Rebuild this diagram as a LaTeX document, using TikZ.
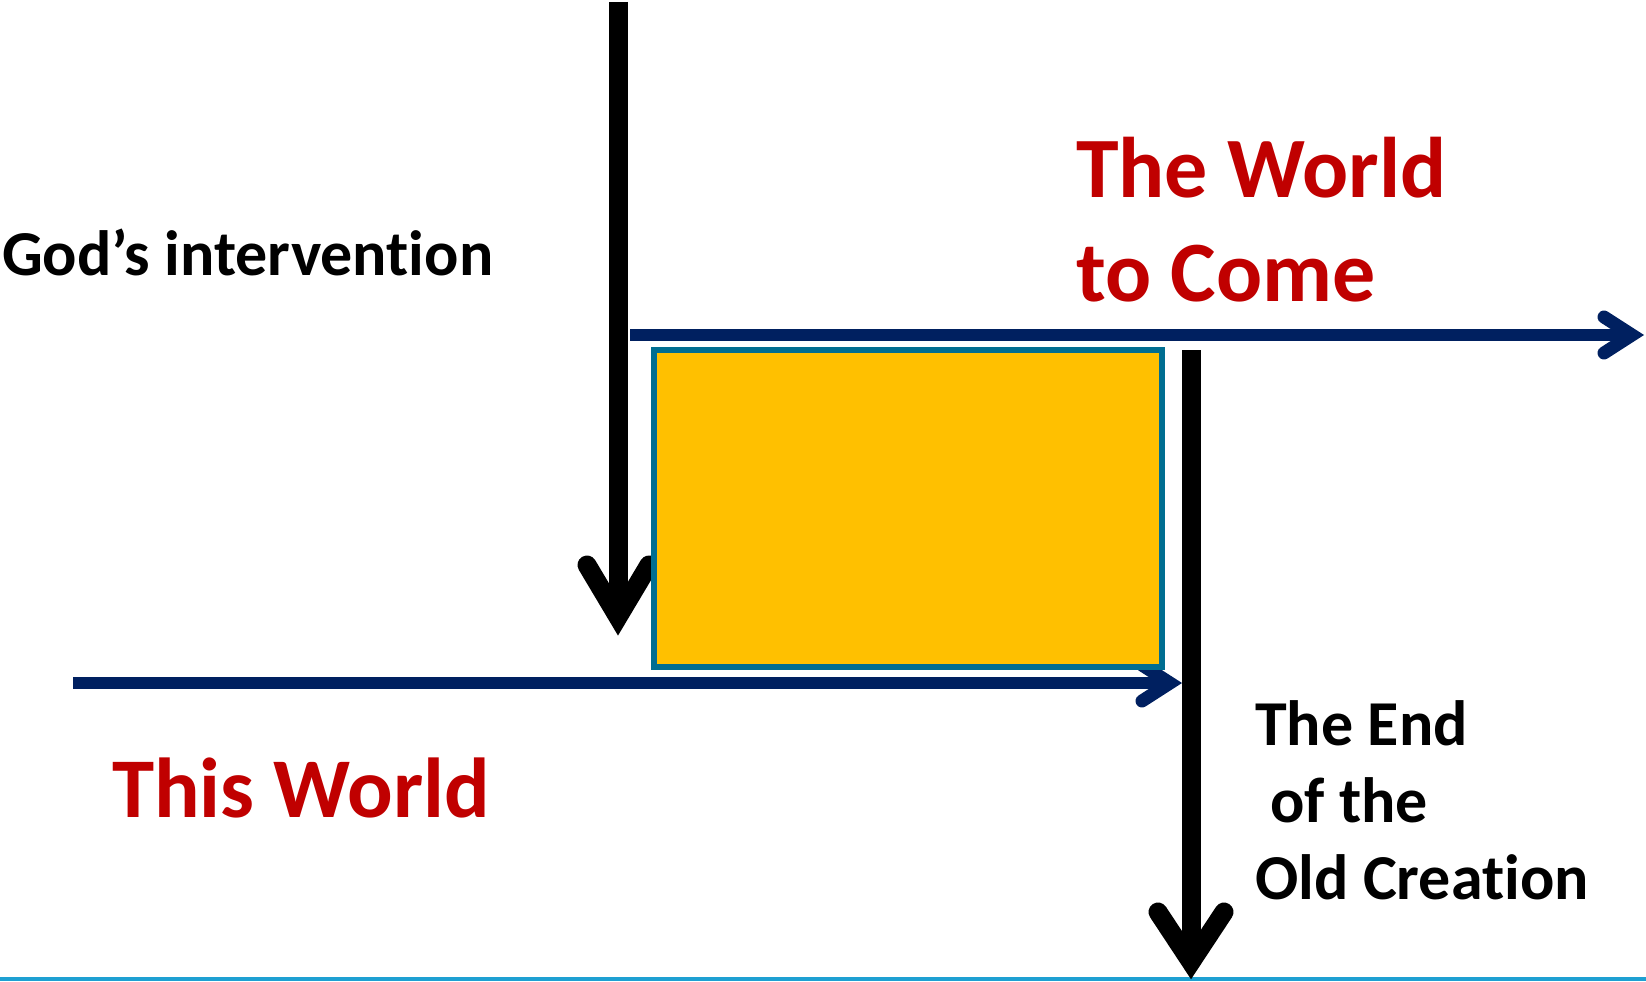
\documentclass[tikz,border=0pt]{standalone}
\usepackage{fontspec}
\setmainfont{Carlito}[RawFeature=-liga]
\definecolor{wred}{RGB}{192,0,0}
\definecolor{wnavy}{RGB}{0,32,96}
\definecolor{worange}{RGB}{255,192,0}
\definecolor{wteal}{RGB}{0,110,145}
\definecolor{wblue}{RGB}{30,160,210}
\begin{document}
\begin{tikzpicture}[x=1pt,y=-1pt,
  blackarrow/.style={line width=19pt,black},
  blackhead/.style={line width=19pt,black,line cap=round,line join=miter},
  navyarrow/.style={line width=12pt,wnavy},
  navyhead/.style={line width=13pt,wnavy,line cap=round,line join=miter},
  lbl/.style={anchor=base west,inner sep=0pt,font=\bfseries}]
\useasboundingbox[fill=white] (0,0) rectangle (1646,982);
% bottom rule
\coordinate (bl) at (0,979);
\coordinate (br) at (1646,979);
\draw[wblue,line width=4pt] (bl) -- (br);
% God's intervention arrow
\coordinate (v1top) at (618,2);
\coordinate (v1tip) at (618,617);
\coordinate (v1l) at (587,565);
\coordinate (v1r) at (649,565);
\draw[blackarrow] (v1top) -- ([yshift=10pt]v1tip);
\draw[blackhead] (v1l) -- (v1tip) -- (v1r);
% world to come arrow
\coordinate (tstart) at (630,335);
\coordinate (ttip) at (1632,335);
\coordinate (tu) at (1604,317);
\coordinate (td) at (1604,353);
\draw[navyarrow] (tstart) -- ([xshift=-8pt]ttip);
\draw[navyhead] (tu) -- (ttip) -- (td);
% this world arrow
\coordinate (bstart) at (73,683);
\coordinate (btip) at (1170,683);
\coordinate (bu) at (1142,665);
\coordinate (bd) at (1142,701);
\draw[navyarrow] (bstart) -- ([xshift=-8pt]btip);
\draw[navyhead] (bu) -- (btip) -- (bd);
% end of old creation arrow
\coordinate (v2top) at (1191,350);
\coordinate (v2tip) at (1191,962);
\coordinate (v2l) at (1158,912);
\coordinate (v2r) at (1224,912);
\draw[blackarrow] (v2top) -- ([yshift=10pt]v2tip);
\draw[blackhead] (v2l) -- (v2tip) -- (v2r);
% box
\node[draw=wteal,fill=worange,line width=6pt,inner sep=0pt,outer sep=0pt,minimum width=508pt,minimum height=317pt,anchor=north west] (box) at (654,350) {};
% labels
\node[lbl,font=\bfseries\fontsize{64}{64}\selectfont] (god) at (2,275) {God’s intervention};
\node[lbl,text=wred,font=\bfseries\fontsize{86}{86}\selectfont] (tw1) at (1076,197) {The World};
\node[lbl,text=wred,font=\bfseries\fontsize{86}{86}\selectfont] (tw2) at (1076,301) {to Come};
\node[lbl,text=wred,font=\bfseries\fontsize{85}{85}\selectfont] (this) at (112,817) {This World};
\node[lbl,font=\bfseries\fontsize{64}{64}\selectfont] (e1) at (1255,745) {The End};
\node[lbl,font=\bfseries\fontsize{64}{64}\selectfont] (e2) at (1270,822) {of the};
\node[lbl,font=\bfseries\fontsize{64}{64}\selectfont] (e3) at (1255,899) {Old Creation};
\end{tikzpicture}
\end{document}
